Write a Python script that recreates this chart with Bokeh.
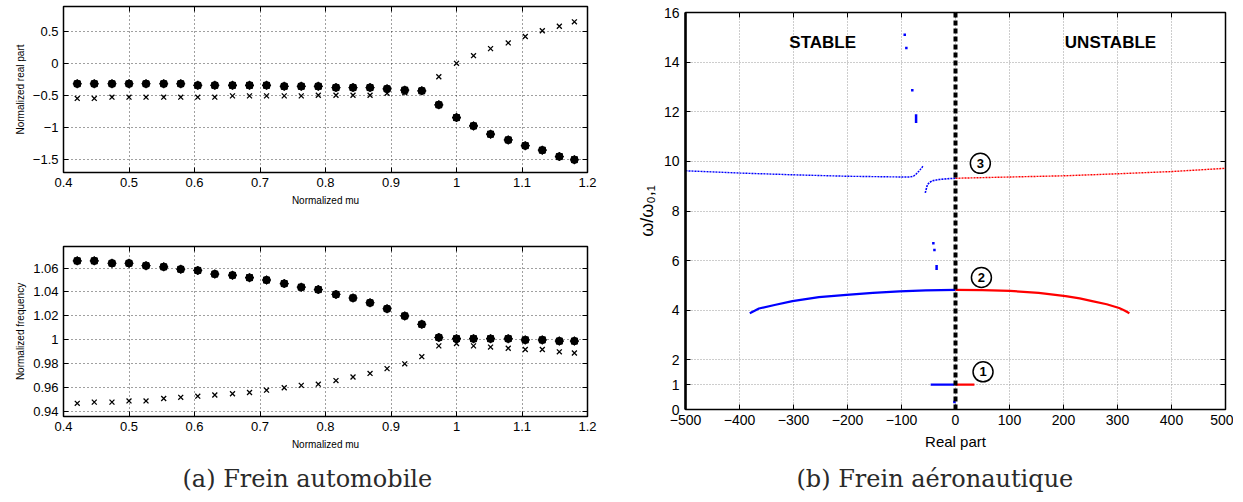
from bokeh.plotting import figure
from bokeh.layouts import row, column
from bokeh.models import Range1d, FixedTicker, LinearAxis, Span, ColumnDataSource
from bokeh.core.properties import value
from bokeh.embed import file_html
from bokeh.resources import INLINE

# ---------------- data: (a) Frein automobile ----------------
mu = [0.421, 0.447, 0.474, 0.500, 0.526, 0.553, 0.579, 0.605, 0.631, 0.658,
      0.684, 0.710, 0.737, 0.763, 0.789, 0.816, 0.842, 0.868, 0.894, 0.921,
      0.947, 0.973, 1.000, 1.026, 1.052, 1.079, 1.105, 1.131, 1.157, 1.180]
real_dot = [-0.32, -0.32, -0.32, -0.32, -0.32, -0.32, -0.32, -0.345, -0.345, -0.345,
            -0.345, -0.345, -0.36, -0.36, -0.36, -0.38, -0.38, -0.38, -0.40, -0.42,
            -0.43, -0.65, -0.85, -0.98, -1.11, -1.20, -1.29, -1.36, -1.46, -1.51]
real_cross = [-0.55, -0.55, -0.53, -0.53, -0.53, -0.53, -0.53, -0.53, -0.53, -0.51,
              -0.51, -0.51, -0.51, -0.51, -0.50, -0.50, -0.50, -0.50, -0.47, -0.46,
              -0.44, -0.21, 0.00, 0.12, 0.23, 0.32, 0.42, 0.51, 0.58, 0.65]
freq_dot = [1.066, 1.066, 1.064, 1.064, 1.062, 1.061, 1.059, 1.058, 1.055, 1.054,
            1.052, 1.050, 1.047, 1.044, 1.042, 1.038, 1.035, 1.031, 1.026, 1.020,
            1.013, 1.002, 1.001, 1.001, 1.001, 1.001, 1.000, 1.000, 0.999, 0.999]
freq_cross = [0.947, 0.948, 0.948, 0.949, 0.949, 0.951, 0.952, 0.953, 0.954, 0.955,
              0.956, 0.958, 0.960, 0.962, 0.963, 0.966, 0.969, 0.972, 0.976, 0.980,
              0.986, 0.995, 0.997, 0.995, 0.994, 0.993, 0.992, 0.992, 0.990, 0.989]

mu_ticks = [0.4, 0.5, 0.6, 0.7, 0.8, 0.9, 1.0, 1.1, 1.2]
mu_labels = ["0.4", "0.5", "0.6", "0.7", "0.8", "0.9", "1", "1.1", "1.2"]
real_ticks = [-1.5, -1.0, -0.5, 0.0, 0.5]
real_labels = ["\u22121.5", "\u22121", "\u22120.5", "0", "0.5"]
freq_ticks = [0.94, 0.96, 0.98, 1.0, 1.02, 1.04, 1.06]
freq_labels = ["0.94", "0.96", "0.98", "1", "1.02", "1.04", "1.06"]

# ---------------- data: (b) Frein aeronautique ----------------
m1_blue_x = [-46, -2]
m1_blue_y = [1.0, 1.0]
m1_red_x = [0, 35]
m1_red_y = [1.0, 1.0]
m2_blue_x = [-381, -372, -364, -333, -302, -253, -202, -153, -104, -55, 0]
m2_blue_y = [3.88, 3.98, 4.07, 4.22, 4.37, 4.53, 4.62, 4.70, 4.76, 4.80, 4.82]
m2_red_x = [0, 50, 101, 154, 204, 230, 253, 280, 303, 313, 322]
m2_red_y = [4.82, 4.81, 4.78, 4.70, 4.57, 4.48, 4.37, 4.24, 4.09, 3.99, 3.88]
m3_blue_x = [-500, -400, -302, -200, -98, -85, -78, -74, -68, -62, -60]
m3_blue_y = [9.62, 9.53, 9.46, 9.40, 9.37, 9.37, 9.40, 9.46, 9.60, 9.75, 9.83]
m3_blue2_x = [-56, -54, -52, -48, -43, -30, -15, 0]
m3_blue2_y = [8.73, 8.90, 9.06, 9.15, 9.22, 9.27, 9.30, 9.32]
m3_red_x = [0, 100, 203, 300, 400, 500]
m3_red_y = [9.32, 9.37, 9.42, 9.50, 9.59, 9.72]
frag_x = [-94, -91, -80, -73, -41, -39, -35, -2]
frag_y0 = [15.05, 14.52, 12.82, 11.55, 6.65, 6.38, 5.62, 0.25]
frag_y1 = [15.15, 14.62, 12.92, 11.90, 6.75, 6.48, 5.82, 0.35]

re_ticks = [-500, -400, -300, -200, -100, 0, 100, 200, 300, 400, 500]
re_labels = ["\u2212500", "\u2212400", "\u2212300", "\u2212200", "\u2212100", "0",
             "100", "200", "300", "400", "500"]
om_ticks = [0, 1, 2, 4, 6, 8, 10, 12, 14, 16]
om_labels = ["0", "1", "2", "4", "6", "8", "10", "12", "14", "16"]

mode_names = ["1", "2", "3"]
mode_label_x = [51, 48, 46]
mode_label_y = [1.52, 5.32, 9.92]

SANS = "Liberation Sans"
SERIF = "DejaVu Serif"


def style_axes(p, xt, xl, yt, yl, tick_size, lab_size, grid_color, grid_dash, grid_alpha):
    p.xaxis.ticker = FixedTicker(ticks=xt)
    p.yaxis.ticker = FixedTicker(ticks=yt)
    p.xaxis.major_label_overrides = {t: l for t, l in zip(xt, xl)}
    p.yaxis.major_label_overrides = {t: l for t, l in zip(yt, yl)}
    for ax in (p.xaxis, p.yaxis):
        ax.major_label_text_font = SANS
        ax.major_label_text_font_size = tick_size
        ax.major_label_text_color = "black"
        ax.axis_label_text_font = SANS
        ax.axis_label_text_font_size = lab_size
        ax.axis_label_text_font_style = "normal"
        ax.axis_label_text_color = "black"
        ax.major_tick_in = 5
        ax.major_tick_out = 0
        ax.minor_tick_line_color = None
        ax.major_tick_line_color = "black"
        ax.axis_line_color = "black"
    p.xgrid.ticker = FixedTicker(ticks=xt)
    p.ygrid.ticker = FixedTicker(ticks=yt)
    for g in (p.xgrid, p.ygrid):
        g.grid_line_color = grid_color
        g.grid_line_dash = grid_dash
        g.grid_line_alpha = grid_alpha
    p.outline_line_color = "black"
    p.outline_line_width = 1.5
    # ticks on the right and top sides (box style)
    ra = LinearAxis(ticker=FixedTicker(ticks=yt), major_tick_in=5, major_tick_out=0,
                    minor_tick_line_color=None, axis_line_color=None,
                    major_label_text_color=None, major_label_text_font_size="1px",
                    major_label_standoff=0)
    ta = LinearAxis(ticker=FixedTicker(ticks=xt), major_tick_in=5, major_tick_out=0,
                    minor_tick_line_color=None, axis_line_color=None,
                    major_label_text_color=None, major_label_text_font_size="1px",
                    major_label_standoff=0)
    p.add_layout(ra, "right")
    p.add_layout(ta, "above")


def caption(p, offset):
    p.title.text_font = SERIF
    p.title.text_font_size = "24px"
    p.title.text_font_style = "normal"
    p.title.text_color = "#2a2a2a"
    p.title.align = "left"
    p.title.offset = offset
    p.title.standoff = 20


# ---------------- figure a1 ----------------
fa1 = figure(width=633, height=208, output_backend="svg", toolbar_location=None,
             x_range=Range1d(0.4, 1.2), y_range=Range1d(-1.71, 0.89),
             min_border_left=63, min_border_right=46, min_border_top=6, min_border_bottom=30,
             x_axis_label="Normalized mu", y_axis_label="Normalized real part")
style_axes(fa1, mu_ticks, mu_labels, real_ticks, real_labels, "13px", "10px",
           "black", "1 3", 0.75)
fa1.xaxis[0].axis_label_standoff = 2
fa1.yaxis[0].axis_label_standoff = 4
fa1.xaxis[0].major_label_standoff = 4
fa1.scatter(mu, real_dot, marker="circle", size=7.5, color="black")
fa1.scatter(mu, real_dot, marker="asterisk", size=9, line_color="black", line_width=1.2)
fa1.scatter(mu, real_cross, marker="x", size=7, line_color="black", line_width=1.3)

# ---------------- figure a2 ----------------
fa2 = figure(width=633, height=294, output_backend="svg", toolbar_location=None,
             x_range=Range1d(0.4, 1.2), y_range=Range1d(0.936, 1.078),
             min_border_left=63, min_border_right=46, min_border_top=38, min_border_bottom=85,
             x_axis_label="Normalized mu", y_axis_label="Normalized frequency",
             title="(a) Frein automobile", title_location="below")
style_axes(fa2, mu_ticks, mu_labels, freq_ticks, freq_labels, "13px", "10px",
           "black", "1 3", 0.75)
caption(fa2, 119)
fa2.xaxis[0].axis_label_standoff = 4
fa2.yaxis[0].axis_label_standoff = 4
fa2.xaxis[0].major_label_standoff = 6
fa2.scatter(mu, freq_dot, marker="circle", size=7.5, color="black")
fa2.scatter(mu, freq_dot, marker="asterisk", size=9, line_color="black", line_width=1.2)
fa2.scatter(mu, freq_cross, marker="x", size=7, line_color="black", line_width=1.3)

# ---------------- figure b ----------------
fb = figure(width=600, height=502, output_backend="svg", toolbar_location=None,
            x_range=Range1d(-500, 500), y_range=Range1d(0, 16),
            min_border_left=50, min_border_right=8, min_border_top=12, min_border_bottom=86,
            x_axis_label="Real part", y_axis_label="\u03c9/\u03c9\u2080,\u2081",
            title="(b) Frein a\u00e9ronautique", title_location="below")
style_axes(fb, re_ticks, re_labels, om_ticks, om_labels, "14px", "15px",
           "#9a9a9a", "1 2", 1.0)
caption(fb, 111)
fb.yaxis[0].axis_label_text_font_size = "18px"
fb.xaxis[0].axis_line_width = 2.5
fb.yaxis[0].axis_line_width = 2.5
fb.xaxis[0].axis_label_standoff = 2
fb.yaxis[0].axis_label_standoff = 4
fb.xaxis[0].major_label_standoff = 4
fb.yaxis[0].major_label_standoff = 6

fb.line(m3_blue_x, m3_blue_y, line_color="blue", line_width=1.4, line_dash="2 1")
fb.line(m3_blue2_x, m3_blue2_y, line_color="blue", line_width=1.6, line_dash="2 1")
fb.line(m3_red_x, m3_red_y, line_color="red", line_width=1.4, line_dash="2 1")
fb.line(m2_blue_x, m2_blue_y, line_color="blue", line_width=2.2)
fb.line(m2_red_x, m2_red_y, line_color="red", line_width=2.2)
fb.line(m1_blue_x, m1_blue_y, line_color="blue", line_width=2.2)
fb.line(m1_red_x, m1_red_y, line_color="red", line_width=2.2)
fb.segment(x0=frag_x, y0=frag_y0, x1=frag_x, y1=frag_y1, line_color="blue", line_width=2.5)

fb.add_layout(Span(location=0, dimension="height", line_color="black",
                   line_width=4, line_dash="5 3"))

fb.text(x=[-246], y=[14.8], text=["STABLE"], text_font=value(SANS), text_font_size="17px",
        text_font_style="bold", text_align="center", text_baseline="middle", text_color="black")
fb.text(x=[287], y=[14.8], text=["UNSTABLE"], text_font=value(SANS), text_font_size="17px",
        text_font_style="bold", text_align="center", text_baseline="middle", text_color="black")

msrc = ColumnDataSource(dict(x=mode_label_x, y=mode_label_y, t=mode_names))
fb.scatter("x", "y", source=msrc, marker="circle", size=20, fill_color="white",
           line_color="black", line_width=1.5)
fb.text("x", "y", text="t", source=msrc, text_font=value(SANS), text_font_size="13px",
        text_font_style="bold", text_align="center", text_baseline="middle", text_color="black")

layout = row(column(fa1, fa2, spacing=0), fb, spacing=0)
open("out.html", "w").write(file_html(layout, INLINE))
